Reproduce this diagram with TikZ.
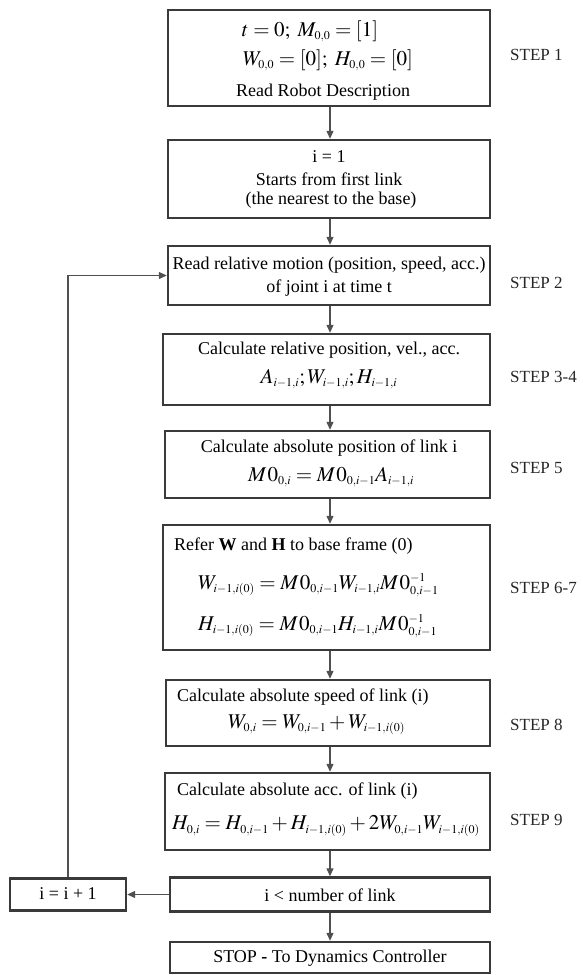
\documentclass[tikz,border=0pt]{standalone}
\usepackage{mathptmx}
\usepackage[no-math]{fontspec}
\setmainfont{Liberation Serif}
\usetikzlibrary{arrows.meta}
\DeclareMathSizes{21}{21}{12}{9}
\definecolor{boxc}{HTML}{3A3A3A}
\definecolor{linec}{HTML}{505050}
\newcommand{\Mz}{M\mkern1mu0}
\begin{document}
\begin{tikzpicture}[x=1pt,y=-1pt,
  box/.style={draw=boxc, line width=2.4pt, inner sep=0pt, fill=white},
  txt/.style={font=\fontsize{18}{21}\selectfont, inner sep=0pt, text=black},
  mth/.style={font=\fontsize{21}{24}\selectfont, inner sep=0pt, text=black},
  steplbl/.style={font=\fontsize{17}{20}\selectfont, inner sep=0pt, anchor=west, text=black!85},
  conn/.style={draw=linec, line width=1.2pt, -{Triangle[length=8pt,width=7pt]}}]
\useasboundingbox (0,0) rectangle (583,975);
\coordinate (spine) at (330,0);
% boxes
\node[box, minimum width=322, minimum height=96] (b1) at (329,58) {};
\node[box, minimum width=322, minimum height=78] (b2) at (329,179) {};
\node[box, minimum width=322, minimum height=59] (b3) at (329,275.5) {};
\node[box, minimum width=327, minimum height=71] (b4) at (326.5,369.5) {};
\node[box, minimum width=325, minimum height=67] (b5) at (327.5,464.5) {};
\node[box, minimum width=327, minimum height=125] (b6) at (326.5,587.5) {};
\node[box, minimum width=324, minimum height=66] (b7) at (328,713) {};
\node[box, minimum width=325, minimum height=77] (b8) at (327.5,811.5) {};
\node[box, minimum width=320, minimum height=34] (b9) at (330,894.5) {};
\node[box, minimum width=320, minimum height=31] (b10) at (330,957.5) {};
\node[box, minimum width=116, minimum height=32] (i1) at (68,894.5) {};
% texts
\node[mth] (t1a) at (310,31) {$t=0;\; M_{0,0}=[1]$};
\node[mth] (t1b) at (328,60) {$W_{0,0}=[0];\; H_{0,0}=[0]$};
\node[txt] (t1c) at (323,92) {Read Robot Description};
\node[txt] (t2a) at (329,157) {i = 1};
\node[txt] (t2b) at (329,179) {Starts from first link};
\node[txt] (t2c) at (331,200) {(the nearest to the base)};
\node[txt] (t3a) at (329,265) {Read relative motion (position, speed, acc.)};
\node[txt] (t3b) at (329,288) {of joint i at time t};
\node[txt] (t4a) at (329,350) {Calculate relative position, vel., acc.};
\node[mth] (t4b) at (329,379) {$A_{i-1,i};W_{i-1,i};H_{i-1,i}$};
\node[txt] (t5a) at (329,448) {Calculate absolute position of link i};
\node[mth] (t5b) at (331,477) {$\Mz_{0,i}=\Mz_{0,i-1}A_{i-1,i}$};
\node[txt, anchor=west] (t6a) at (174,546) {Refer \textbf{W} and \textbf{H} to base frame (0)};
\node[mth, anchor=west] (t6b) at (198,585) {$W_{i-1,i(0)}=\Mz_{0,i-1}W_{i-1,i}\Mz_{0,i-1}^{-1}$};
\node[mth, anchor=west] (t6c) at (198,626) {$H_{i-1,i(0)}=\Mz_{0,i-1}H_{i-1,i}\Mz_{0,i-1}^{-1}$};
\node[txt, anchor=west] (t7a) at (177,697) {Calculate absolute speed of link (i)};
\node[mth, anchor=west] (t7b) at (228,725) {$W_{0,i}=W_{0,i-1}+W_{i-1,i(0)}$};
\node[txt, anchor=west] (t8a) at (177,791) {Calculate absolute acc. of link (i)};
\node[mth, anchor=west] (t8b) at (172,826) {$H_{0,i}=H_{0,i-1}+H_{i-1,i(0)}+2W_{0,i-1}W_{i-1,i(0)}$};
\node[txt] (t9) at (330,895) {i \textless{} number of link};
\node[txt] (t10) at (330,958) {STOP \textbf{-} To Dynamics Controller};
\node[txt] (ti1) at (68,894) {i = i + 1};
% step labels
\node[steplbl] (s1) at (510,55) {STEP 1};
\node[steplbl] (s2) at (510,283) {STEP 2};
\node[steplbl] (s34) at (510,377) {STEP 3-4};
\node[steplbl] (s5) at (510,468) {STEP 5};
\node[steplbl] (s67) at (510,588) {STEP 6-7};
\node[steplbl] (s8) at (510,725) {STEP 8};
\node[steplbl] (s9) at (510,820) {STEP 9};
% connectors
\draw[conn] (b1.south -| spine) -- (b2.north -| spine);
\draw[conn] (b2.south -| spine) -- (b3.north -| spine);
\draw[conn] (b3.south -| spine) -- (b4.north -| spine);
\draw[conn] (b4.south -| spine) -- (b5.north -| spine);
\draw[conn] (b5.south -| spine) -- (b6.north -| spine);
\draw[conn] (b6.south -| spine) -- (b7.north -| spine);
\draw[conn] (b7.south -| spine) -- (b8.north -| spine);
\draw[conn] (b8.south -| spine) -- (b9.north -| spine);
\draw[conn] (b9.south -| spine) -- (b10.north -| spine);
\draw[conn] (b9.west) -- (i1.east);
\draw[conn] (i1.north) |- (b3.west);
\end{tikzpicture}
\end{document}
